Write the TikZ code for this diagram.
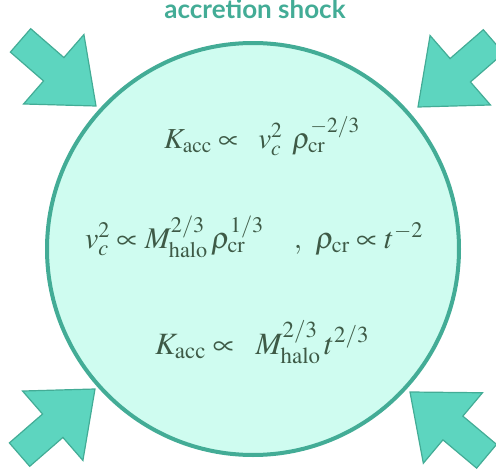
\documentclass[tikz,border=0pt]{standalone}
\usepackage{mathptmx}
\usepackage[no-math]{fontspec}
\newfontfamily\labelfont{Lato}
\usetikzlibrary{positioning}
\definecolor{shockedge}{HTML}{43AC96}
\definecolor{shockfill}{HTML}{CFFCF0}
\definecolor{flowfill}{HTML}{5DD5BF}
\definecolor{eqtext}{HTML}{3E5A46}
\tikzset{
  halo/.style     ={circle, draw=shockedge, fill=shockfill, line width=4pt,
                    minimum size=412pt, inner sep=0pt},
  inflow/.style   ={draw=shockedge, fill=flowfill, line width=1.2pt, line join=miter},
  eqn/.style      ={text=eqtext, font=\fontsize{30}{36}\selectfont, anchor=base,
                    inner sep=0pt},
  shocklabel/.style={text=shockedge, font=\labelfont\bfseries\fontsize{26}{30}\selectfont,
                    anchor=base, inner sep=0pt},
}
% one block arrow falling in; tip at (#1,#2), pointing along angle #3
\newcommand{\inflowarrow}[3]{%
  \draw[inflow, shift={(#1,#2)}, rotate=#3]
    (0,0) -- (-56,46) -- (-56,15.5) -- (-100,15.5) -- (-100,-15.5)
    -- (-56,-15.5) -- (-56,-46) -- cycle;}
\def\inflowlist{96/-106/-41, 418/-107/-139, 95/-389/41, 410/-392/140}

\begin{document}
\begin{tikzpicture}[x=1pt,y=1pt]
\useasboundingbox (0,0) rectangle (496,-471);
\node[halo] (shock) at (253,-249) {};
\foreach \x/\y/\a in \inflowlist {\inflowarrow{\x}{\y}{\a}}
\node[shocklabel] (shocktitle) at (255,-18) {accretion shock};
\node[eqn, font=\fontsize{29}{34}\selectfont] (kacc) at (262,-148)
  {$K_{\mathrm{acc}} \propto\;\; v_c^2\;\, \rho_{\mathrm{cr}}^{-2/3}$};
\node[eqn] (vcirc) at (254,-248)
  {$v_c^2 \propto M_{\mathrm{halo}}^{2/3}\, \rho_{\mathrm{cr}}^{1/3}\hspace{30pt},\hspace{10pt}\rho_{\mathrm{cr}} \propto t^{-2}$};
\node[eqn, font=\fontsize{31}{36}\selectfont] (kmass) at (262,-354)
  {$K_{\mathrm{acc}} \propto\;\; M_{\mathrm{halo}}^{2/3}\, t^{2/3}$};
\end{tikzpicture}
\end{document}
